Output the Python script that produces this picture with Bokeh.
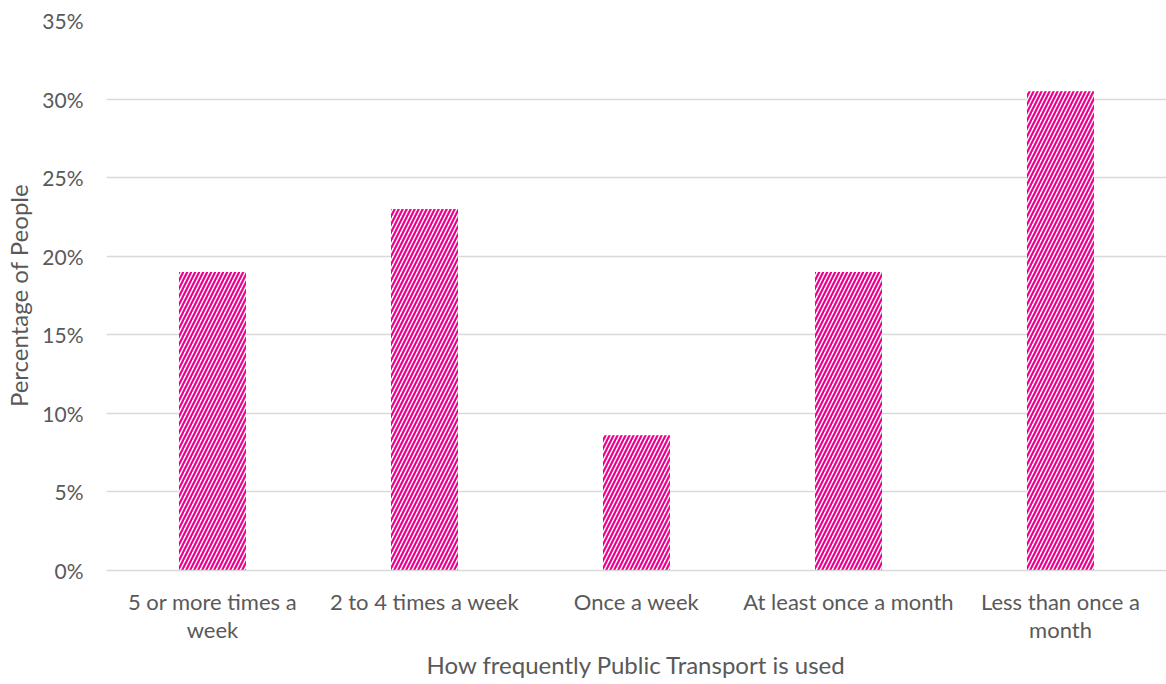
from bokeh.plotting import figure
from bokeh.models import ColumnDataSource, PrintfTickFormatter, FixedTicker, Range1d
from bokeh.embed import file_html
from bokeh.resources import INLINE

# Share of respondents by how often they use public transport
categories = [
    "5 or more times a\nweek",
    "2 to 4 times a week",
    "Once a week",
    "At least once a month",
    "Less than once a\nmonth",
]
percentages = [19.0, 23.0, 8.6, 19.0, 30.5]
y_ticks = [0, 5, 10, 15, 20, 25, 30, 35]

FONT = "Lato"
TEXT_COLOR = "#595959"
BAR_COLOR = "#EC008C"
GRID_COLOR = "#D9D9D9"

source = ColumnDataSource(data=dict(category=categories, pct=percentages))

p = figure(
    x_range=categories,
    y_range=Range1d(0, 35),
    frame_width=1060,
    frame_height=550,
    min_border_left=106,
    min_border_right=0,
    min_border_top=20,
    min_border_bottom=114,
    output_backend="svg",
    toolbar_location=None,
    background_fill_color="white",
    border_fill_color="white",
)
p.outline_line_color = None

p.vbar(
    x="category",
    top="pct",
    width=0.316,
    source=source,
    fill_color="white",
    line_color=None,
    hatch_pattern="/",
    hatch_color=BAR_COLOR,
    hatch_scale=8,
    hatch_weight=2.2,
)

# y axis: percentages, no axis line or ticks
p.yaxis.ticker = FixedTicker(ticks=y_ticks)
p.yaxis.formatter = PrintfTickFormatter(format="%d%%")
p.yaxis.axis_line_color = None
p.yaxis.major_tick_line_color = None
p.yaxis.minor_tick_line_color = None
p.yaxis.major_label_standoff = 17
p.yaxis.axis_label = "Percentage of People"
p.yaxis.axis_label_standoff = 6

# x axis: categories sit on the 0% line
p.xaxis.axis_line_color = GRID_COLOR
p.xaxis.axis_line_width = 1.5
p.xaxis.major_tick_line_color = None
p.xaxis.minor_tick_line_color = None
p.xaxis.major_label_standoff = 11
p.xaxis.major_label_text_line_height = 1.05
p.xaxis.axis_label = "How frequently Public Transport is used"
p.xaxis.axis_label_standoff = 4

for ax in (p.xaxis, p.yaxis):
    ax.major_label_text_font = FONT
    ax.major_label_text_color = TEXT_COLOR
    ax.axis_label_text_font = FONT
    ax.axis_label_text_font_size = "24px"
    ax.axis_label_text_font_style = "normal"
    ax.axis_label_text_color = TEXT_COLOR
p.xaxis.major_label_text_font_size = "22px"
p.yaxis.major_label_text_font_size = "21px"

p.xgrid.grid_line_color = None
p.ygrid.grid_line_color = GRID_COLOR
p.ygrid.grid_line_width = 1.5

open("out.html", "w").write(file_html(p, INLINE))
